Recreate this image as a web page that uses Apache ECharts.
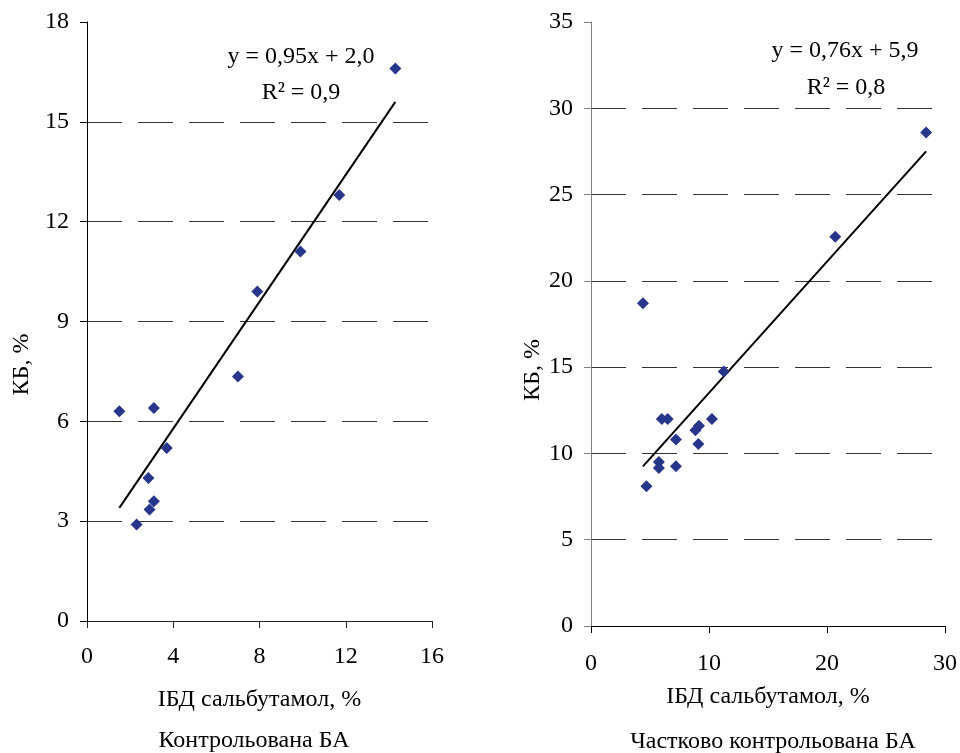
<!DOCTYPE html>
<html>
<head>
<meta charset="utf-8">
<script src="https://cdn.jsdelivr.net/npm/echarts@6/dist/echarts.min.js"></script>
<style>
html,body{margin:0;padding:0;background:#fff;}
#chart{width:960px;height:753px;}
</style>
</head>
<body>
<div id="chart"></div>
<script>
// ---- Data ----
const leftPoints = [
  [1.5, 6.3], [3.1, 6.4], [3.7, 5.2], [2.85, 4.3], [3.1, 3.6], [2.9, 3.35],
  [2.3, 2.9], [7.0, 7.35], [7.9, 9.9], [9.9, 11.1], [11.7, 12.8], [14.3, 16.6]
];
const leftTrend = [[1.5, 3.4], [14.3, 15.6]];
const rightPoints = [
  [4.4, 18.7], [4.7, 8.1], [5.75, 9.5], [5.75, 9.15], [6.0, 12.0], [6.5, 12.0],
  [7.2, 10.8], [7.2, 9.25], [8.85, 11.35], [9.15, 11.6], [9.1, 10.55],
  [10.25, 12.0], [11.25, 14.75], [20.7, 22.55], [28.4, 28.6]
];
const rightTrend = [[4.4, 9.25], [28.4, 27.5]];

const leftEquation = ['y = 0,95x + 2,0', 'R² = 0,9'];
const rightEquation = ['y = 0,76x + 5,9', 'R² = 0,8'];
const xAxisName = 'ІБД сальбутамол, %';
const yAxisName = 'КБ, %';
const leftCaption = 'Контрольована БА';
const rightCaption = 'Частково контрольована БА';

// ---- Styles ----
const FONT = '"Liberation Serif", "Times New Roman", serif';
const FS = 24;
const MARK = '#27358a';
const txt = {fontFamily: FONT, fontSize: FS, color: '#000'};

function yAx(gi, max, interval, axisColor, pad, gap) {
  return {
    gridIndex: gi, type: 'value', min: 0, max: max, interval: interval,
    name: yAxisName, nameLocation: 'middle', nameGap: gap,
    nameTextStyle: Object.assign({}, txt, {padding: pad}),
    axisLine: {show: true, lineStyle: {color: axisColor, width: 1}},
    axisTick: {show: true, inside: false, length: 7, lineStyle: {color: axisColor}},
    axisLabel: Object.assign({}, txt, {margin: 18}),
    splitLine: {show: true, showMaxLine: false, showMinLine: false,
      lineStyle: {color: '#333', width: 1, type: [35, 16]}}
  };
}
function xAx(gi, max, interval, axisColor, labelMargin, gap) {
  return {
    gridIndex: gi, type: 'value', min: 0, max: max, interval: interval,
    name: xAxisName, nameLocation: 'middle', nameGap: gap,
    nameTextStyle: Object.assign({}, txt),
    axisLine: {show: true, onZero: false, lineStyle: {color: axisColor, width: 1}},
    axisTick: {show: true, inside: false, length: 7, lineStyle: {color: axisColor}},
    axisLabel: Object.assign({}, txt, {margin: labelMargin}),
    splitLine: {show: false}
  };
}
function eqText(x, y, s) {
  return {type: 'text', x: x, y: y,
    style: {text: s, font: FS + 'px ' + FONT, fill: '#000', align: 'center', verticalAlign: 'middle'}};
}

const chart = echarts.init(document.getElementById('chart'), null, {renderer: 'canvas'});
chart.setOption({
  animation: false,
  backgroundColor: '#fff',
  grid: [
    {left: 87, top: 22, width: 345, height: 599},
    {left: 591, top: 22, width: 357, height: 604}
  ],
  xAxis: [
    xAx(0, 16, 4, '#222', 24, 67),
    xAx(1, 30, 10, '#000', 26, 59)
  ],
  yAxis: [
    yAx(0, 18, 3, '#000', [0, 86, 0, 0], 53),
    yAx(1, 35, 5, '#808080', [0, 92, 0, 0], 46)
  ],
  series: [
    {type: 'line', xAxisIndex: 0, yAxisIndex: 0, data: leftTrend, symbol: 'none',
      lineStyle: {color: '#000', width: 2}, z: 2},
    {type: 'scatter', xAxisIndex: 0, yAxisIndex: 0, data: leftPoints, symbol: 'diamond',
      symbolSize: 12, itemStyle: {color: MARK, opacity: 1}, z: 3},
    {type: 'line', xAxisIndex: 1, yAxisIndex: 1, data: rightTrend, symbol: 'none',
      lineStyle: {color: '#000', width: 2}, z: 2},
    {type: 'scatter', xAxisIndex: 1, yAxisIndex: 1, data: rightPoints, symbol: 'diamond',
      symbolSize: 12, itemStyle: {color: MARK, opacity: 1}, z: 3}
  ],
  graphic: [
    eqText(301, 57, leftEquation[0]),
    eqText(301, 93, leftEquation[1]),
    eqText(845, 51, rightEquation[0]),
    eqText(846, 88, rightEquation[1]),
    eqText(254, 741, leftCaption),
    eqText(773, 742, rightCaption)
  ]
});
</script>
</body>
</html>
